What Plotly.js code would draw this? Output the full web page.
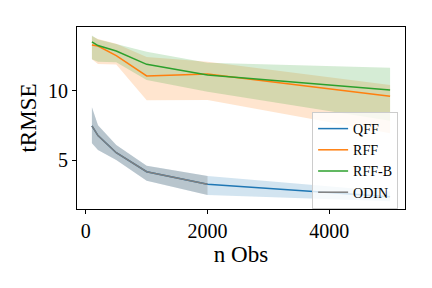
<!DOCTYPE html>
<html>
<head>
<meta charset="utf-8">
<script src="https://cdn.plot.ly/plotly-3.0.1.min.js"></script>
<style>html,body{margin:0;padding:0;background:#fff;}#chart{width:432px;height:288px;}</style>
</head>
<body>
<div id="chart"></div>
<script>
const nObs = [100, 200, 500, 1000, 2000, 5000];

const qffMean  = [7.48, 6.78, 5.55, 4.18, 3.27, 2.38];
const qffUpper = [8.82, 7.53, 6.10, 4.61, 3.87, 2.75];
const qffLower = [6.23, 5.75, 5.03, 3.53, 2.50, 2.05];

const rffMean  = [13.32, 13.24, 12.55, 11.08, 11.23, 9.62];
const rffUpper = [13.95, 13.75, 13.40, 12.45, 12.11, 10.43];
const rffLower = [12.28, 11.95, 11.90, 9.33, 9.35, 6.95];

const rffbMean  = [13.53, 13.27, 12.88, 11.92, 11.15, 10.07];
const rffbUpper = [14.00, 13.70, 13.39, 12.83, 12.04, 11.68];
const rffbLower = [12.28, 12.10, 12.07, 10.79, 9.95, 7.86];

const odinObs   = [100, 200, 500, 1000, 2000];
const odinMean  = [7.48, 6.78, 5.55, 4.18, 3.27];
const odinUpper = [8.82, 7.53, 6.10, 4.61, 3.87];
const odinLower = [6.23, 5.75, 5.03, 3.53, 2.50];

const series = [
  {name: 'QFF', x: nObs, m: qffMean, u: qffUpper, l: qffLower, c: '#1f77b4', fill: 'rgba(31,119,180,0.2)'},
  {name: 'RFF', x: nObs, m: rffMean, u: rffUpper, l: rffLower, c: '#ff7f0e', fill: 'rgba(255,127,14,0.2)'},
  {name: 'RFF-B', x: nObs, m: rffbMean, u: rffbUpper, l: rffbLower, c: '#2ca02c', fill: 'rgba(44,160,44,0.2)'},
  {name: 'ODIN', x: odinObs, m: odinMean, u: odinUpper, l: odinLower, c: '#7f7f7f', fill: 'rgba(127,127,127,0.3)'}
];

const traces = [];
series.forEach(s => {
  traces.push({x: s.x, y: s.l, mode: 'lines', line: {width: 0}, showlegend: false, hoverinfo: 'skip'});
  traces.push({x: s.x, y: s.u, mode: 'lines', line: {width: 0}, fill: 'tonexty', fillcolor: s.fill, showlegend: false, hoverinfo: 'skip'});
});
series.forEach(s => {
  traces.push({x: s.x, y: s.m, mode: 'lines', name: s.name, line: {color: s.c, width: 1.5}});
});

const font = {family: '"Liberation Serif", "DejaVu Serif", serif', color: '#000'};

const layout = {
  width: 432, height: 288,
  margin: {l: 77, r: 27, t: 27, b: 79},
  paper_bgcolor: '#fff', plot_bgcolor: '#fff',
  font: Object.assign({size: 20}, font),
  showlegend: true,
  legend: {
    x: 0.979, y: 0.0, xanchor: 'right', yanchor: 'bottom',
    bgcolor: 'rgba(255,255,255,0.8)', bordercolor: '#cccccc', borderwidth: 1,
    font: Object.assign({size: 14}, font),
    traceorder: 'normal',
    tracegroupgap: 0, itemwidth: 30
  },
  xaxis: {
    range: [-145, 5245], tickvals: [0, 2000, 4000], ticktext: ['0', '2000', '4000'],
    showgrid: false, zeroline: false, showline: true, linecolor: '#000', linewidth: 1, mirror: true,
    ticks: 'outside', ticklen: 4, tickcolor: '#000', tickfont: Object.assign({size: 20}, font),
    title: {text: 'n Obs', font: Object.assign({size: 23}, font), standoff: 2}
  },
  yaxis: {
    range: [1.49, 14.61], tickvals: [5, 10], ticktext: ['5', '10'],
    showgrid: false, zeroline: false, showline: true, linecolor: '#000', linewidth: 1, mirror: true,
    ticks: 'outside', ticklen: 4, tickcolor: '#000', tickfont: Object.assign({size: 20}, font),
    title: {text: 'tRMSE', font: Object.assign({size: 23}, font), standoff: 4}
  }
};

Plotly.newPlot('chart', traces, layout, {displayModeBar: false, staticPlot: true});
</script>
</body>
</html>
